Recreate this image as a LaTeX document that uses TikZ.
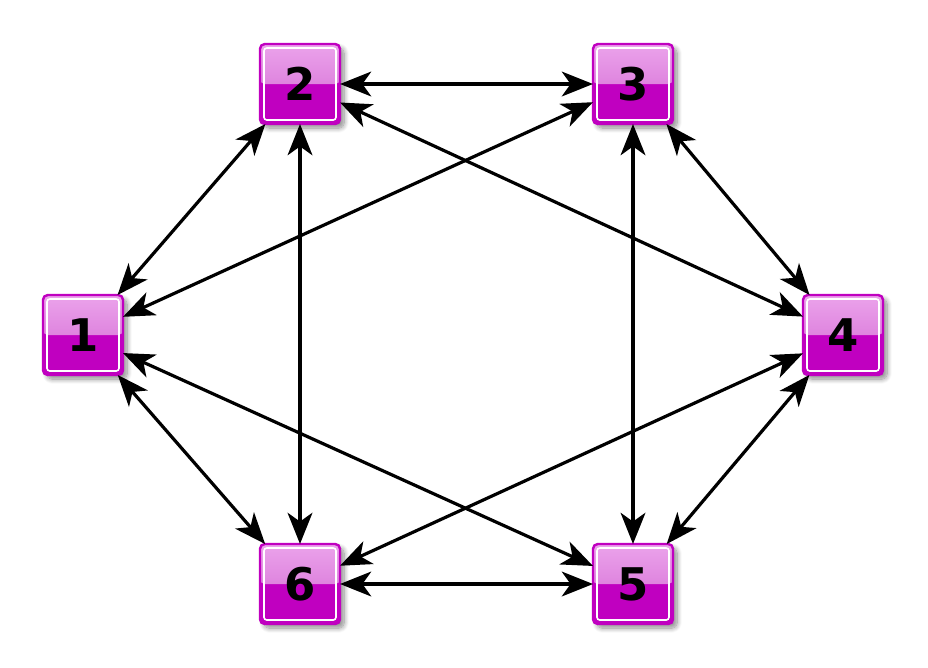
\documentclass[tikz,border=0pt]{standalone}
\usepackage{fontspec}
\newfontfamily\boxfont{DejaVu Sans}
\usetikzlibrary{arrows.meta,shadows.blur}
\definecolor{boxmag}{HTML}{C000C0}
\definecolor{boxtop}{HTML}{EBA3EB}
\definecolor{boxmid}{HTML}{D266D2}
\begin{document}
\begin{tikzpicture}[x=0.025cm,y=-0.025cm]
    \tikzset{
      vbox/.style={rectangle, rounded corners=0.12cm, minimum size=2cm,
                   inner sep=0pt, outer sep=0pt, draw=boxmag, line width=0.06cm,
                   fill=boxmag, font=\boxfont\bfseries\fontsize{32}{32}\selectfont,
                   blur shadow={shadow xshift=0.1cm, shadow yshift=-0.1cm,
                                shadow blur radius=0.12cm,
                                shadow blur steps=10, shadow opacity=45},
                   path picture={
                     \fill[top color=boxtop, bottom color=boxmid]
                       (path picture bounding box.north west) rectangle
                       (path picture bounding box.east);
                     \draw[white, line width=0.04cm, rounded corners=0.07cm]
                       ([shift={(0.1cm,-0.1cm)}]path picture bounding box.north west) rectangle
                       ([shift={(-0.1cm,0.1cm)}]path picture bounding box.south east);
                   }},
      link/.style={{Stealth[length=0.78cm,width=0.62cm,inset=0.22cm]}-{Stealth[length=0.78cm,width=0.62cm,inset=0.22cm]},
                   line width=0.08cm, black},
    }
    \useasboundingbox (0,0) rectangle (928,667);

    \node[vbox] (n1) at (83,335) {1};
    \node[vbox] (n2) at (300,84) {2};
    \node[vbox] (n3) at (633,84) {3};
    \node[vbox] (n4) at (843,335) {4};
    \node[vbox] (n5) at (633,584) {5};
    \node[vbox] (n6) at (300,584) {6};

    \foreach \a/\b in {1/2,1/3,1/5,1/6,2/3,2/4,2/6,3/4,3/5,4/5,4/6,6/5}
      \draw[link] (n\a) -- (n\b);
  \end{tikzpicture}
\end{document}
